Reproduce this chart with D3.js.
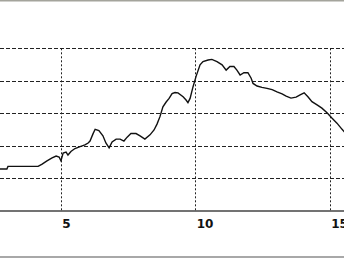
<!DOCTYPE html>
<html><head><meta charset="utf-8">
<script src="https://cdn.jsdelivr.net/npm/d3@7"></script>
<style>html,body{margin:0;padding:0;background:#fff;overflow:hidden}</style>
</head><body>
<script>
const xs = [2.74,3.00,3.04,4.16,4.31,4.49,4.68,4.83,4.94,5.01,5.09,5.20,5.27,5.38,5.53,5.72,5.90,6.02,6.09,6.20,6.28,6.42,6.57,6.68,6.80,6.91,7.06,7.21,7.35,7.47,7.61,7.80,7.95,8.13,8.32,8.47,8.58,8.69,8.80,8.92,9.03,9.14,9.25,9.36,9.55,9.66,9.73,9.81,9.92,10.03,10.18,10.29,10.48,10.62,10.81,11.00,11.15,11.29,11.44,11.55,11.67,11.81,11.96,12.08,12.15,12.30,12.48,12.67,12.86,13.04,13.23,13.38,13.56,13.75,13.90,14.05,14.19,14.34,14.53,14.71,14.90,15.09,15.27,15.46,15.61];
const ys = [1.29,1.29,1.37,1.37,1.44,1.54,1.63,1.69,1.66,1.54,1.78,1.81,1.72,1.83,1.92,1.98,2.03,2.09,2.15,2.37,2.51,2.47,2.31,2.09,1.94,2.12,2.21,2.21,2.15,2.27,2.38,2.38,2.31,2.21,2.34,2.49,2.67,2.90,3.20,3.35,3.46,3.61,3.64,3.63,3.51,3.41,3.33,3.46,3.82,4.13,4.49,4.59,4.64,4.66,4.59,4.49,4.33,4.44,4.44,4.33,4.18,4.25,4.25,4.08,3.92,3.84,3.80,3.77,3.73,3.66,3.60,3.53,3.47,3.50,3.57,3.63,3.51,3.36,3.26,3.16,3.02,2.85,2.70,2.51,2.37];
const xTicks = [5,10,15];
const yGrid = [1,2,3,4,5];

const W = 344, H = 258;
const svg = d3.select("body").append("svg").attr("width", W).attr("height", H);
const x = d3.scaleLinear().domain([5,15]).range([60.7,329.7]);
const y = d3.scaleLinear().domain([0,5]).range([211,48.3]);

svg.append("rect").attr("x",0).attr("y",0).attr("width",W).attr("height",1.5).attr("fill","#a4a49c");
svg.append("rect").attr("x",0).attr("y",256).attr("width",W).attr("height",2).attr("fill","#a8a8a8");

const g = svg.append("g");
g.selectAll("line.hg").data(yGrid).enter().append("line")
  .attr("x1",0).attr("x2",W).attr("y1",d=>Math.round(y(d))+0.5).attr("y2",d=>Math.round(y(d))+0.5)
  .attr("stroke","#222").attr("stroke-width",1).attr("stroke-dasharray","4,2");
g.selectAll("line.vg").data(xTicks).enter().append("line")
  .attr("x1",d=>Math.round(x(d))+0.5).attr("x2",d=>Math.round(x(d))+0.5)
  .attr("y1",y(5)).attr("y2",y(0))
  .attr("stroke","#222").attr("stroke-width",1).attr("stroke-dasharray","2,2");

const ax = d3.axisBottom(x).tickValues(xTicks).tickSize(0).tickPadding(0).tickFormat(d3.format("d"));
const axg = svg.append("g").attr("transform",`translate(0,${y(0)})`).call(ax);
axg.select(".domain").remove();
axg.selectAll("text").attr("text-anchor","start").attr("dx","1").attr("dy","0").attr("y",16.5)
  .style("font-family","'DejaVu Sans',Verdana,sans-serif").style("font-weight","bold").style("font-size","12px").attr("fill","#111");
svg.append("line").attr("x1",0).attr("x2",W).attr("y1",211).attr("y2",211).attr("stroke","#444").attr("stroke-width",1.5);

const data = xs.map((v,i)=>[v,ys[i]]);
svg.append("path").datum(data)
  .attr("d", d3.line().x(d=>x(d[0])).y(d=>y(d[1])))
  .attr("fill","none").attr("stroke","#111").attr("stroke-width",1.4);
</script>
</body></html>
